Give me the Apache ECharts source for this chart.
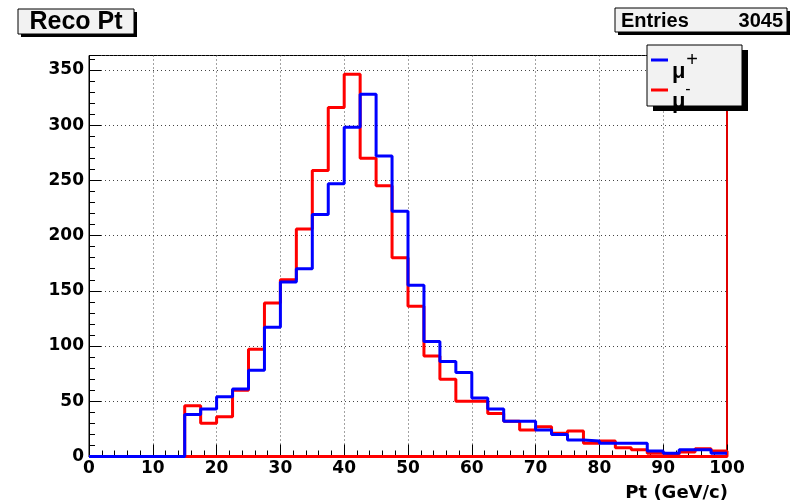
<!DOCTYPE html>
<html>
<head>
<meta charset="utf-8">
<script src="https://cdn.jsdelivr.net/npm/echarts@6/dist/echarts.min.js"></script>
<style>
  html, body { margin: 0; padding: 0; background: #fff; }
  #chart { width: 801px; height: 504px; }
</style>
</head>
<body>
<div id="chart"></div>
<script>
// Low edges of the 2.5 GeV/c bins, 0 to 100
const binLowEdges = [
  0, 2.5, 5, 7.5, 10, 12.5, 15, 17.5, 20, 22.5,
  25, 27.5, 30, 32.5, 35, 37.5, 40, 42.5, 45, 47.5,
  50, 52.5, 55, 57.5, 60, 62.5, 65, 67.5, 70, 72.5,
  75, 77.5, 80, 82.5, 85, 87.5, 90, 92.5, 95, 97.5
];
const axisUpperEdge = 100;

// Bin contents, mu+ (blue)
const muPlusCounts = [
  0, 0, 0, 0, 0, 0, 38, 43, 54, 61,
  78, 117, 158, 170, 219, 247, 298, 328, 272, 222,
  155, 104, 86, 76, 53, 43, 32, 32, 24, 20,
  15, 14, 12, 12, 12, 5, 3, 6, 6, 3
];

// Bin contents, mu- (red)
const muMinusCounts = [
  0, 0, 0, 0, 0, 0, 46, 30, 36, 60,
  97, 139, 160, 206, 259, 316, 346, 270, 245, 180,
  136, 91, 70, 50, 50, 39, 32, 24, 27, 21,
  23, 12, 14, 8, 6, 3, 2, 4, 7, 5
];

const histTitle = 'Reco Pt';
const entriesLabel = 'Entries';
const entriesValue = '3045';
const xTitle = 'Pt (GeV/c)';

// Turn bin contents into step-line vertices: one point per low edge,
// plus the closing point at the upper edge of the last bin.
function stepPoints(counts) {
  const pts = binLowEdges.map((e, i) => [e, counts[i]]);
  pts.push([axisUpperEdge, counts[counts.length - 1]]);
  return pts;
}

// The mu- outline is closed back along the baseline.
const muMinusPath = stepPoints(muMinusCounts)
  .concat([[axisUpperEdge, 0], [binLowEdges[0], 0]]);
const muPlusPath = stepPoints(muPlusCounts);

const tickFont = { fontFamily: 'DejaVu Sans', fontWeight: 'bold', fontSize: 17, color: '#000' };
const gridDots = { show: true, lineStyle: { type: [1, 3], color: '#444', width: 1 } };

const chart = echarts.init(document.getElementById('chart'), null, { renderer: 'canvas' });

chart.setOption({
  animation: false,
  backgroundColor: '#ffffff',
  grid: {
    left: 89, right: 74, top: 55.5, bottom: 47.5,
    show: true, borderColor: '#000', borderWidth: 1, backgroundColor: 'transparent'
  },
  xAxis: {
    type: 'value', min: 0, max: 100, interval: 10,
    axisLine: { show: true, onZero: false, lineStyle: { color: '#000', width: 1 } },
    axisTick: { show: true, inside: true, length: 12, lineStyle: { color: '#000' } },
    minorTick: { show: true, splitNumber: 5, length: 6, lineStyle: { color: '#000' } },
    axisLabel: Object.assign({ margin: 4 }, tickFont),
    splitLine: gridDots
  },
  yAxis: [
    {
      type: 'value', min: 0, max: 363, interval: 50,
      axisLine: { show: true, lineStyle: { color: '#000', width: 1 } },
      axisTick: { show: true, inside: true, length: 12, lineStyle: { color: '#000' } },
      minorTick: { show: true, splitNumber: 5, length: 6, lineStyle: { color: '#000' } },
      axisLabel: Object.assign({ margin: 5, showMaxLabel: false }, tickFont),
      splitLine: gridDots
    },
    {
      type: 'value', min: 0, max: 363, position: 'right',
      axisLine: { show: true, lineStyle: { color: '#e00000', width: 2 } },
      axisTick: { show: false },
      axisLabel: { show: false },
      splitLine: { show: false }
    }
  ],
  series: [
    {
      name: 'mu-', type: 'line', step: 'end', data: muMinusPath,
      showSymbol: false, symbol: 'none', clip: false,
      lineStyle: { color: '#ff0000', width: 3 }, z: 3
    },
    {
      name: 'mu+', type: 'line', step: 'end', data: muPlusPath,
      showSymbol: false, symbol: 'none', clip: false,
      lineStyle: { color: '#0000ff', width: 3 }, z: 4
    }
  ],
  graphic: [
    // title box
    { type: 'rect', shape: { x: 21, y: 12, width: 116, height: 25 }, style: { fill: '#000' }, z: 10 },
    { type: 'rect', shape: { x: 18, y: 9, width: 116, height: 25 }, style: { fill: '#f2f2f2', stroke: '#000', lineWidth: 1 }, z: 11 },
    { type: 'text', x: 76, y: 22, style: { text: histTitle, fontFamily: 'Liberation Sans', fontWeight: 'bold', fontSize: 25, fill: '#000', align: 'center', verticalAlign: 'middle' }, z: 12 },

    // statistics box
    { type: 'rect', shape: { x: 618, y: 11, width: 172, height: 24 }, style: { fill: '#000' }, z: 10 },
    { type: 'rect', shape: { x: 615, y: 8, width: 172, height: 24 }, style: { fill: '#f2f2f2', stroke: '#000', lineWidth: 1 }, z: 11 },
    { type: 'text', x: 621, y: 21, style: { text: entriesLabel, fontFamily: 'Liberation Sans', fontWeight: 'bold', fontSize: 20, fill: '#000', align: 'left', verticalAlign: 'middle' }, z: 12 },
    { type: 'text', x: 783, y: 21, style: { text: entriesValue, fontFamily: 'Liberation Sans', fontWeight: 'bold', fontSize: 20, fill: '#000', align: 'right', verticalAlign: 'middle' }, z: 12 },

    // legend box
    { type: 'rect', shape: { x: 653, y: 50, width: 95, height: 61 }, style: { fill: '#000' }, z: 10 },
    { type: 'rect', shape: { x: 647, y: 45, width: 95, height: 61 }, style: { fill: '#f2f2f2', stroke: '#000', lineWidth: 1 }, z: 11 },
    { type: 'line', shape: { x1: 651, y1: 60, x2: 668, y2: 60 }, style: { stroke: '#0000ff', lineWidth: 3 }, z: 12 },
    { type: 'line', shape: { x1: 651, y1: 90, x2: 668, y2: 90 }, style: { stroke: '#ff0000', lineWidth: 3 }, z: 12 },
    { type: 'text', x: 672, y: 72, style: { text: 'μ', fontFamily: 'Liberation Sans', fontWeight: 'bold', fontSize: 22, fill: '#000', align: 'left', verticalAlign: 'middle' }, z: 12 },
    { type: 'text', x: 692, y: 60, style: { text: '+', fontFamily: 'Liberation Sans', fontSize: 20, fill: '#000', align: 'center', verticalAlign: 'middle' }, z: 12 },
    { type: 'text', x: 672, y: 102, style: { text: 'μ', fontFamily: 'Liberation Sans', fontWeight: 'bold', fontSize: 22, fill: '#000', align: 'left', verticalAlign: 'middle' }, z: 12 },
    { type: 'text', x: 688, y: 90, style: { text: '-', fontFamily: 'Liberation Sans', fontSize: 16, fill: '#000', align: 'center', verticalAlign: 'middle' }, z: 12 },

    // x-axis title
    { type: 'text', x: 728, y: 493, style: { text: xTitle, fontFamily: 'DejaVu Sans', fontWeight: 'bold', fontSize: 18, fill: '#000', align: 'right', verticalAlign: 'middle' }, z: 12 }
  ]
});
</script>
</body>
</html>
